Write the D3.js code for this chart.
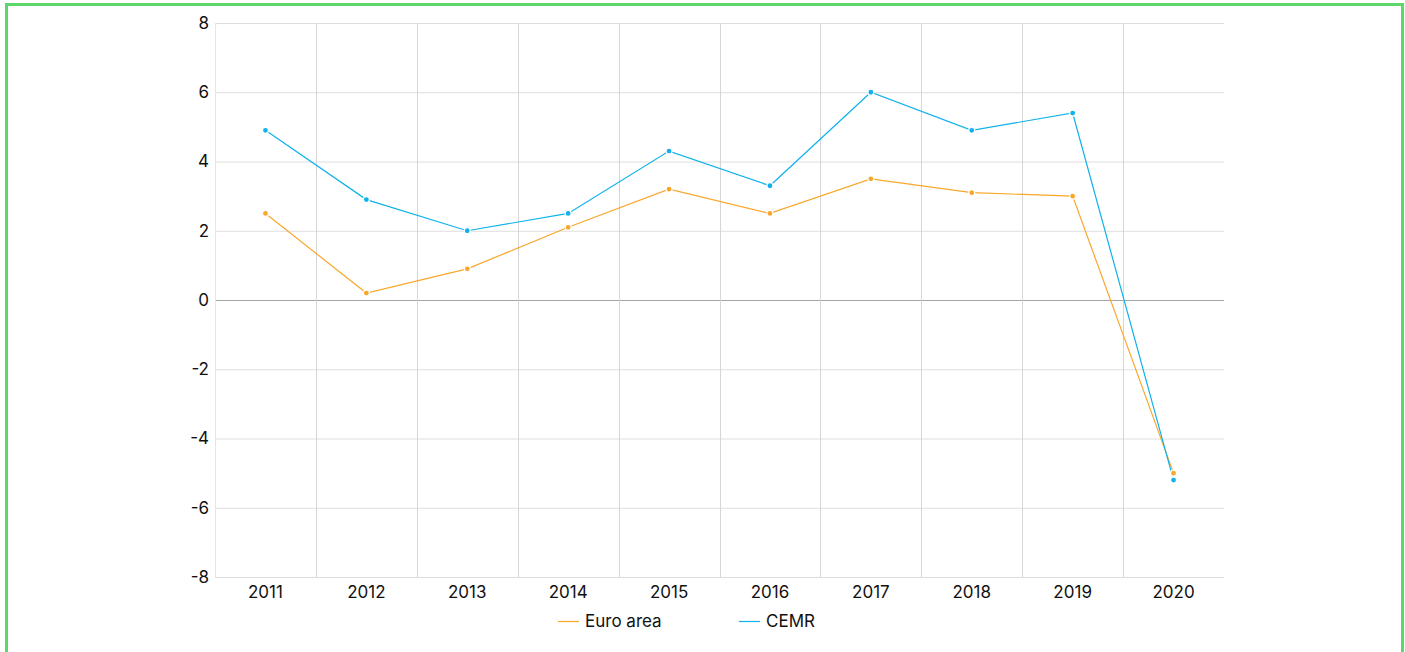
<!DOCTYPE html>
<html><head><meta charset="utf-8">
<script src="https://cdn.jsdelivr.net/npm/d3@7"></script>
<style>
html,body{margin:0;padding:0;background:#fff;overflow:hidden;}
#frame{position:absolute;left:5px;top:3px;width:1399px;height:660px;border:3px solid #5dd66c;box-sizing:border-box;}
text{font-family:Inter,"Noto Sans",sans-serif;}
</style></head><body>
<div id="frame"></div>
<svg id="chart" width="1405" height="652" style="position:absolute;left:0;top:0"></svg>
<script>
const years = ["2011","2012","2013","2014","2015","2016","2017","2018","2019","2020"];
const euroArea = [2.5, 0.2, 0.9, 2.1, 3.2, 2.5, 3.5, 3.1, 3.0, -5.0];
const cemr = [4.9, 2.9, 2.0, 2.5, 4.3, 3.3, 6.0, 4.9, 5.4, -5.2];
const yTicks = [-8, -6, -4, -2, 0, 2, 4, 6, 8];
const seriesNames = ["Euro area", "CEMR"];
const seriesColors = ["#f9a72b", "#0fb2ea"];

(function () {
const svg = d3.select("#chart");
const mLeft = 215, mRight = 1224, mTop = 23, mBottom = 577;
const x = d3.scaleBand().domain(years).range([mLeft, mRight]);
const y = d3.scaleLinear().domain([-8, 8]).range([mBottom, mTop]);

// horizontal gridlines
svg.append("g").selectAll("line").data(yTicks).join("line")
  .attr("x1", mLeft).attr("x2", mRight)
  .attr("y1", d => y(d) + 0.5).attr("y2", d => y(d) + 0.5)
  .attr("stroke", d => d === 0 ? "#a6a6a6" : "#dedede").attr("stroke-width", 1);
// vertical gridlines at band boundaries
svg.append("g").selectAll("line").data(years).join("line")
  .attr("x1", d => Math.round(x(d)) + 0.5).attr("x2", d => Math.round(x(d)) + 0.5)
  .attr("y1", mTop).attr("y2", mBottom)
  .attr("stroke", (d, i) => i === 0 ? "#e6e6e6" : "#d6d6d6").attr("stroke-width", 1);

// y axis labels
const yAxis = d3.axisLeft(y).tickValues(yTicks).tickSize(0).tickPadding(6).tickFormat(d => String(d));
const ya = svg.append("g").attr("transform", `translate(${mLeft},0)`).call(yAxis);
ya.select(".domain").remove();
ya.selectAll("text").attr("font-size", 17).attr("fill", "#111").attr("font-family", "Inter,sans-serif");

// x axis labels
const xAxis = d3.axisBottom(x).tickSize(0).tickPadding(9);
const xa = svg.append("g").attr("transform", `translate(0,${mBottom})`).call(xAxis);
xa.select(".domain").remove();
xa.selectAll("text").attr("font-size", 17).attr("fill", "#111").attr("font-family", "Inter,sans-serif");

const data = [euroArea, cemr];
const line = d3.line().x((d, i) => x(years[i]) + x.bandwidth() / 2).y(d => y(d));
data.forEach((vals, si) => {
  svg.append("path").datum(vals).attr("d", line)
    .attr("fill", "none").attr("stroke", seriesColors[si]).attr("stroke-width", 1.2);
});
data.forEach((vals, si) => {
  svg.append("g").selectAll("circle").data(vals).join("circle")
    .attr("cx", (d, i) => x(years[i]) + x.bandwidth() / 2)
    .attr("cy", d => y(d)).attr("r", 3)
    .attr("fill", seriesColors[si]).attr("stroke", "#fff").attr("stroke-width", 1.2);
});

// legend
const legendX = [558, 739];
seriesNames.forEach((name, i) => {
  const g = svg.append("g").attr("transform", `translate(${legendX[i]},621)`);
  g.append("line").attr("x1", 0).attr("x2", 21).attr("y1", 0.5).attr("y2", 0.5)
    .attr("stroke", seriesColors[i]).attr("stroke-width", 1.2);
  g.append("text").attr("x", 27).attr("y", 0).attr("dy", "0.35em")
    .attr("font-size", 17).attr("fill", "#111").text(name);
});
})();
</script>
</body></html>
